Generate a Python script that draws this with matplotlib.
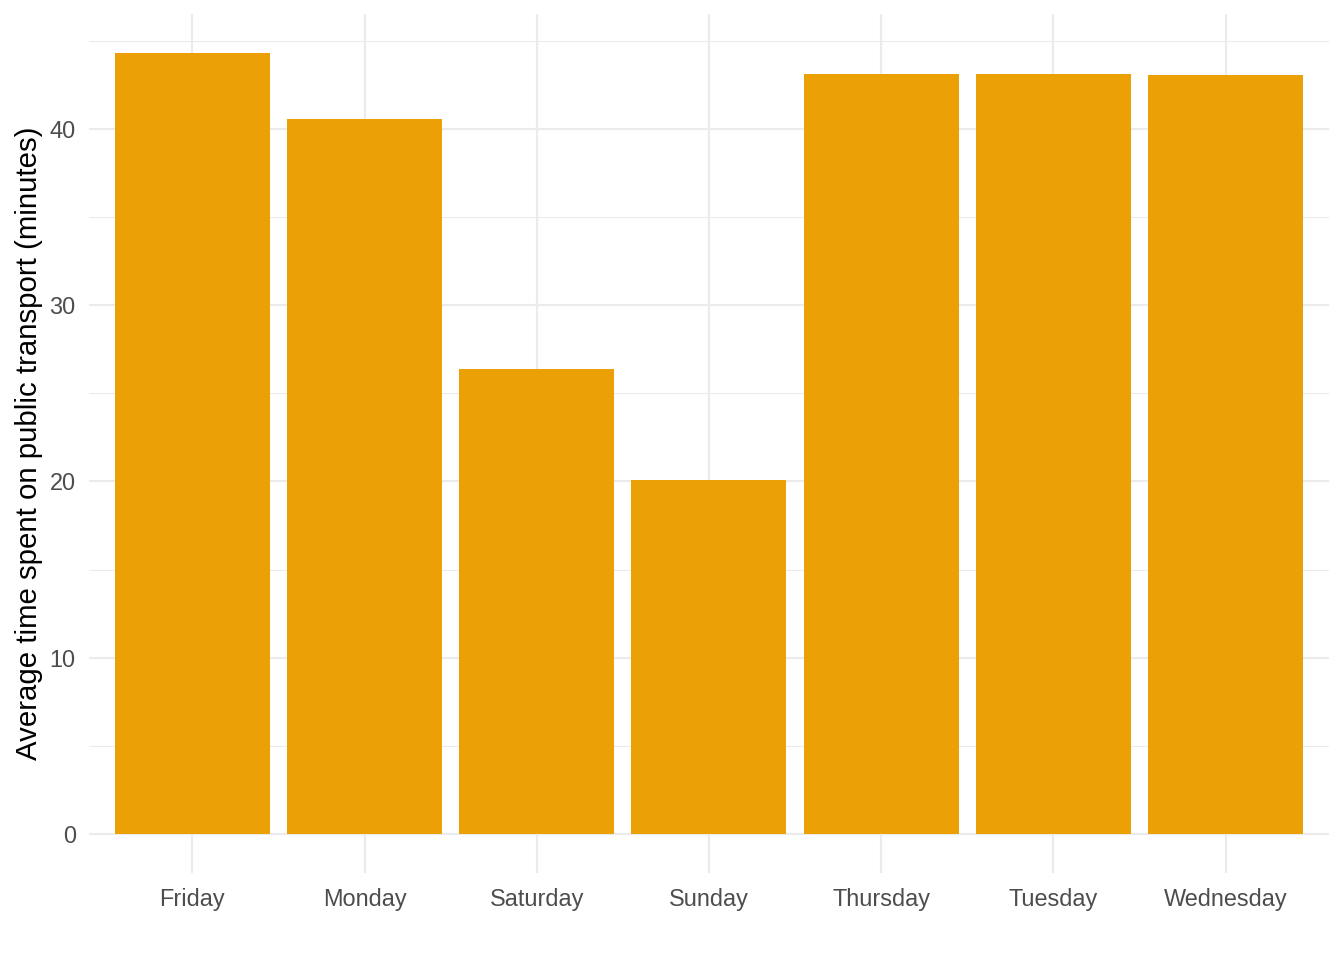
import numpy as np
import matplotlib
matplotlib.use("Agg")
import matplotlib.pyplot as plt

plt.rcParams['font.family'] = ['Liberation Sans', 'DejaVu Sans']

days = ["Friday", "Monday", "Saturday", "Sunday", "Thursday", "Tuesday", "Wednesday"]
avg_minutes = [44.3, 40.55, 26.38, 20.08, 43.1, 43.1, 43.05]

fig = plt.figure(figsize=(7, 5), dpi=192)
ax = fig.add_axes([0.0662, 0.0906, 0.9226, 0.8948])

x = np.arange(1, len(days) + 1)
ax.bar(x, avg_minutes, width=0.9, color="#EBA005", zorder=3)

# ggplot-style limits: discrete expand 0.6, continuous expand 5%
ymax = max(avg_minutes)
ax.set_xlim(0.4, len(days) + 0.6)
ax.set_ylim(-0.05 * ymax, ymax * 1.05)

ax.set_xticks(x)
ax.set_xticklabels(days)
ax.set_yticks([0, 10, 20, 30, 40])
ax.set_yticks([5, 15, 25, 35, 45], minor=True)

ax.grid(which="major", color="#EBEBEB", linewidth=0.8, zorder=0)
ax.grid(which="minor", axis="y", color="#EBEBEB", linewidth=0.4, zorder=0)
ax.tick_params(which="both", length=0, labelsize=8.8, colors="#4D4D4D")
ax.tick_params(axis="y", pad=5)
ax.tick_params(axis="x", pad=5.6)
for s in ax.spines.values():
    s.set_visible(False)

ax.set_ylabel("Average time spent on public transport (minutes)", fontsize=11, color="black", labelpad=2.3)

fig.savefig("out.png", dpi=192)
